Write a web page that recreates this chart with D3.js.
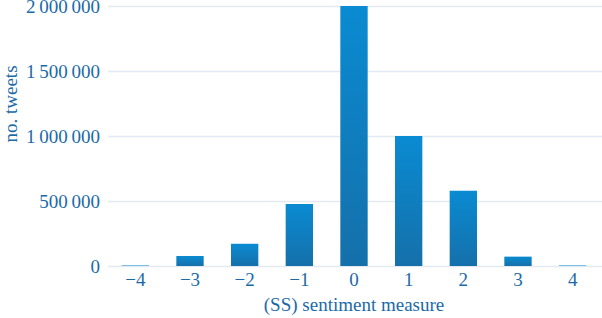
<!DOCTYPE html>
<html><head><meta charset="utf-8">
<script src="https://cdn.jsdelivr.net/npm/d3@7"></script>
<style>body{margin:0;background:#fff}svg{display:block}</style>
</head><body>
<svg id="c" width="602" height="318"></svg>
<script>
const categories = [-4, -3, -2, -1, 0, 1, 2, 3, 4];
const tweets = [4000, 77000, 171000, 477000, 2000000, 1000000, 579000, 72000, 4000];
const yTicks = [0, 500000, 1000000, 1500000, 2000000];

const svg = d3.select("#c");
const m = {l:108, r:2, t:6, b:52};
const W = 602, H = 318;
const x = d3.scaleBand().domain(categories).range([m.l, W - m.r]).paddingInner(0.5).paddingOuter(0.25);
const y = d3.scaleLinear().domain([0, 2000000]).range([H - m.b, m.t]);
const txt = "#1b6aa8";
const FS = "19px";
const fmt = v => d3.format(",")(v).replace(/,/g, "\u2009");
const fmtX = v => v < 0 ? "\u2212" + Math.abs(v) : String(v);

const defs = svg.append("defs");
const g = defs.append("linearGradient").attr("id","bg").attr("x1",0).attr("y1",0).attr("x2",0).attr("y2",1);
g.append("stop").attr("offset","0%").attr("stop-color","#0a8bd2");
g.append("stop").attr("offset","100%").attr("stop-color","#1570aa");

// grid
const ya = svg.append("g").attr("transform",`translate(${m.l},0)`)
  .call(d3.axisLeft(y).tickValues(yTicks).tickSize(-(W - m.l)).tickPadding(8).tickFormat(fmt));
ya.select(".domain").remove();
ya.selectAll(".tick line").attr("stroke","#e3e9f0").attr("stroke-width",1.5);
ya.selectAll(".tick text").attr("fill",txt).style("font-family","'Liberation Serif', serif").style("font-size",FS);

// bars
svg.append("g").selectAll("rect").data(categories).join("rect")
  .attr("x", d => x(d)).attr("width", x.bandwidth())
  .attr("y", (d,i) => y(tweets[i])).attr("height", (d,i) => y(0) - y(tweets[i]))
  .attr("fill","url(#bg)");

// x axis
const xa = svg.append("g").attr("transform",`translate(0,${y(0)})`)
  .call(d3.axisBottom(x).tickSize(0).tickPadding(7).tickFormat(fmtX));
xa.select(".domain").remove();
xa.selectAll(".tick text").attr("fill",txt).style("font-family","'Liberation Serif', serif").style("font-size",FS);

svg.append("text").attr("x", (m.l + W - m.r)/2).attr("y", 311).attr("text-anchor","middle")
  .attr("fill",txt).style("font-family","'Liberation Serif', serif").style("font-size",FS)
  .text("(SS) sentiment measure");
svg.append("text").attr("transform",`translate(17,104) rotate(-90)`).attr("text-anchor","middle")
  .attr("fill",txt).style("font-family","'Liberation Serif', serif").style("font-size",FS)
  .text("no. tweets");
</script>
</body></html>
